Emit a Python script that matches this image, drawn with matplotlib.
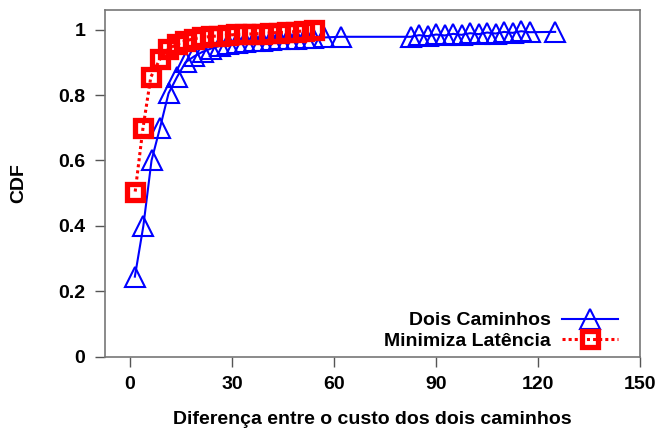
import matplotlib.pyplot as plt
from matplotlib.ticker import FuncFormatter

plt.rcParams['font.family'] = ['Liberation Sans', 'DejaVu Sans']
plt.rcParams['font.weight'] = 'bold'

# Dois Caminhos (blue triangles)
dois_x = [1.4, 3.9, 6.3, 8.8, 11.3, 13.8, 16.3, 18.8, 21.3, 23.8, 26.3, 28.8,
          31.3, 33.8, 36.3, 38.8, 41.3, 43.8, 46.3, 48.8, 51.3, 53.8, 57.0, 62.0,
          82.5, 85.0, 87.5, 90.0, 92.5, 95.0, 97.5, 100.0, 102.5, 105.0, 107.5,
          110.0, 112.5, 115.0, 117.5, 125.0]
dois_y = [0.245, 0.40, 0.60, 0.70, 0.805, 0.855, 0.90, 0.918, 0.932, 0.942,
          0.950, 0.955, 0.959, 0.962, 0.964, 0.966, 0.968, 0.970, 0.971, 0.972,
          0.973, 0.974, 0.976, 0.978,
          0.978, 0.983, 0.980, 0.985, 0.982, 0.987, 0.984, 0.989, 0.986, 0.991,
          0.988, 0.993, 0.990, 0.995, 0.992, 0.993]

# Minimiza Latência (red squares)
min_x = [1.5, 3.8, 6.1, 8.8, 11.2, 13.7, 16.2, 18.7, 21.2, 23.7, 26.2, 28.7,
         31.2, 33.7, 36.2, 38.7, 41.2, 43.7, 46.2, 48.7, 51.2, 54.0]
min_y = [0.505, 0.70, 0.855, 0.91, 0.94, 0.955, 0.965, 0.972, 0.976, 0.979,
         0.981, 0.983, 0.985, 0.986, 0.987, 0.988, 0.990, 0.991, 0.992, 0.994,
         0.996, 0.998]

x_ticks = [0, 30, 60, 90, 120, 150]
y_ticks = [0, 0.2, 0.4, 0.6, 0.8, 1.0]

fig = plt.figure(figsize=(6.62, 4.33), dpi=100)
ax = fig.add_axes([0.158, 0.176, 0.809, 0.801])

ax.plot(dois_x, dois_y, '-', color='#0000ff', linewidth=1.5, marker='^',
        markersize=14, markerfacecolor='none', markeredgewidth=1.5,
        label='Dois Caminhos')
ax.plot(min_x, min_y, color='#ff0000', linewidth=2.2, dashes=(1, 1),
        marker='s', markersize=12, markerfacecolor='none',
        markeredgewidth=3.8, label='Minimiza Latência')

ax.set_xlim(-7.5, 150)
ax.set_ylim(0, 1.06)
ax.set_xticks(x_ticks)
ax.set_yticks(y_ticks)
ax.yaxis.set_major_formatter(FuncFormatter(lambda v, p: f'{v:g}'))
ax.tick_params(direction='out', length=7, width=1, color='#555555',
               labelsize=14, pad=7)
for s in ax.spines.values():
    s.set_color('#777777')
    s.set_linewidth(1.2)

ax.set_xlabel('Diferença entre o custo dos dois caminhos', fontsize=14,
              fontweight='bold', labelpad=13)
ax.set_ylabel('CDF', fontsize=14, fontweight='bold', labelpad=22)

leg = ax.legend(loc='lower right', bbox_to_anchor=(0.959, 0.02),
                frameon=False, markerfirst=False, fontsize=14,
                handlelength=2.9, borderaxespad=0, borderpad=0,
                labelspacing=0.15, handletextpad=0.55)
for t in leg.get_texts():
    t.set_fontweight('bold')

fig.savefig('out.png', dpi=100)
